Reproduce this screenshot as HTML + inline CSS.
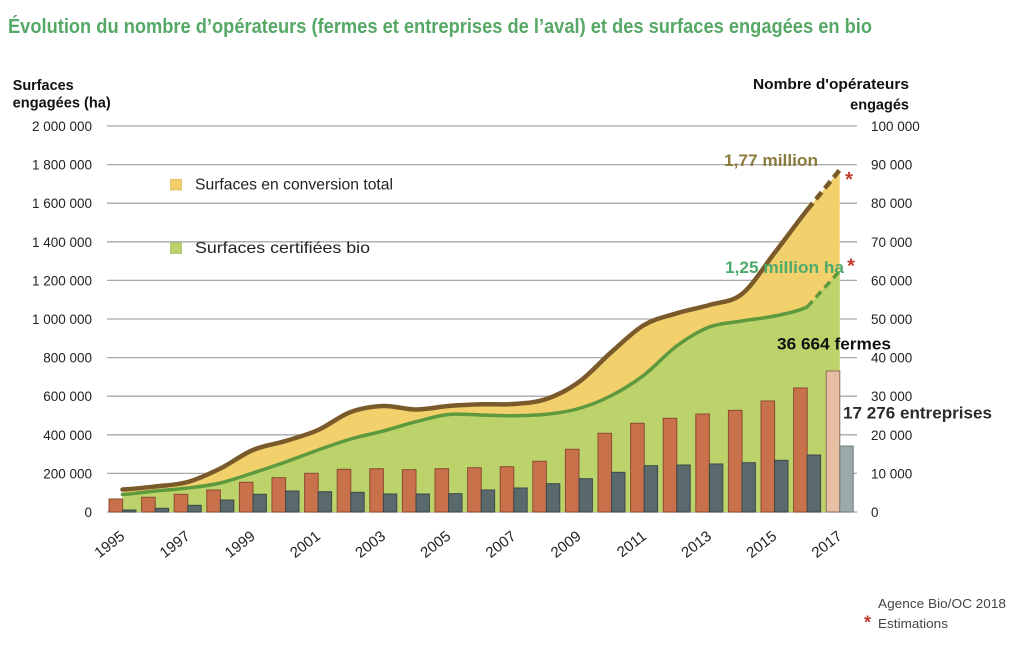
<!DOCTYPE html>
<html>
<head>
<meta charset="utf-8">
<style>
  html, body { margin:0; padding:0; background:#ffffff; }
  body { width:1024px; height:652px; overflow:hidden; }
  svg { display:block; }
  text { font-family: "Liberation Sans", "DejaVu Sans", sans-serif; }
</style>
</head>
<body>
<svg width="1024" height="652" viewBox="0 0 1024 652" xmlns="http://www.w3.org/2000/svg">
  <rect x="0" y="0" width="1024" height="652" fill="#ffffff"/>

  <!-- Title -->
  <text x="8" y="33" font-size="20" font-weight="bold" fill="#55a866" textLength="864" lengthAdjust="spacingAndGlyphs">Évolution du nombre d’opérateurs (fermes et entreprises de l’aval) et des surfaces engagées en bio</text>

  <!-- Axis titles -->
  <text x="12.7" y="90" font-size="14.5" font-weight="bold" fill="#111" textLength="61" lengthAdjust="spacingAndGlyphs">Surfaces</text>
  <text x="12.7" y="107.5" font-size="14.5" font-weight="bold" fill="#111" textLength="98" lengthAdjust="spacingAndGlyphs">engagées (ha)</text>
  <text x="909" y="89" font-size="14.5" font-weight="bold" fill="#111" text-anchor="end" textLength="156" lengthAdjust="spacingAndGlyphs">Nombre d'opérateurs</text>
  <text x="909" y="109.5" font-size="14.5" font-weight="bold" fill="#111" text-anchor="end">engagés</text>

  <!-- Gridlines -->
  <g stroke="#a8a8a8" stroke-width="1.3">
    <line x1="107" y1="126" x2="857" y2="126"/>
    <line x1="107" y1="164.6" x2="857" y2="164.6"/>
    <line x1="107" y1="203.2" x2="857" y2="203.2"/>
    <line x1="107" y1="241.8" x2="857" y2="241.8"/>
    <line x1="107" y1="280.4" x2="857" y2="280.4"/>
    <line x1="107" y1="319" x2="857" y2="319"/>
    <line x1="107" y1="357.6" x2="857" y2="357.6"/>
    <line x1="107" y1="396.2" x2="857" y2="396.2"/>
    <line x1="107" y1="434.8" x2="857" y2="434.8"/>
    <line x1="107" y1="473.4" x2="857" y2="473.4"/>
    <line x1="107" y1="512" x2="857" y2="512"/>
  </g>

  <!-- Left axis labels -->
  <g font-size="13.5" fill="#222" text-anchor="end">
    <text x="92" y="131">2 000 000</text>
    <text x="92" y="169.6">1 800 000</text>
    <text x="92" y="208.2">1 600 000</text>
    <text x="92" y="246.8">1 400 000</text>
    <text x="92" y="285.4">1 200 000</text>
    <text x="92" y="324">1 000 000</text>
    <text x="92" y="362.6">800 000</text>
    <text x="92" y="401.2">600 000</text>
    <text x="92" y="439.8">400 000</text>
    <text x="92" y="478.4">200 000</text>
    <text x="92" y="517">0</text>
  </g>

  <!-- Right axis labels -->
  <g font-size="13.5" fill="#222">
    <text x="871" y="131">100 000</text>
    <text x="871" y="169.6">90 000</text>
    <text x="871" y="208.2">80 000</text>
    <text x="871" y="246.8">70 000</text>
    <text x="871" y="285.4">60 000</text>
    <text x="871" y="324">50 000</text>
    <text x="871" y="362.6">40 000</text>
    <text x="871" y="401.2">30 000</text>
    <text x="871" y="439.8">20 000</text>
    <text x="871" y="478.4">10 000</text>
    <text x="871" y="517">0</text>
  </g>

  <!-- Yellow area (total) -->
  <path fill="#f2d06c" d="M122.5,489.5
    C133.4,489 144.2,487.75 155.1,486.5
    C166,485.25 176.8,485 187.7,482
    C198.6,479 209.4,473.83 220.3,468.5
    C231.2,463.17 242,454.58 252.9,450
    C263.8,445.42 274.6,444.33 285.5,441
    C296.4,437.67 307.2,434.83 318.1,430
    C329,425.17 339.8,416 350.7,412
    C361.6,408 372.4,406.42 383.3,406
    C394.2,405.58 405,409.5 415.9,409.5
    C426.8,409.5 437.6,406.87 448.5,406
    C459.4,405.13 470.2,404.63 481.1,404.3
    C492,403.97 502.8,404.88 513.7,404
    C524.6,403.12 535.4,402.67 546.3,399
    C557.2,395.33 568,389.83 578.9,382
    C589.8,374.17 600.6,361.5 611.5,352
    C622.4,342.5 633.2,331.45 644.1,325
    C655,318.55 665.8,316.63 676.7,313.3
    C687.6,309.97 698.4,308.22 709.3,305
    C720.2,301.78 731,302.67 741.9,294
    C752.8,285.33 763.6,267 774.5,253
    C785.4,239 796.2,223.83 807.1,210
    L839.7,170 L839.7,512 L122.5,512 Z"/>

  <!-- Green area (certified) -->
  <path fill="#bcd36c" d="M122.5,494.5
    C133.4,493.92 144.2,492.08 155.1,491
    C166,489.92 176.8,489.33 187.7,488
    C198.6,486.67 209.4,485.5 220.3,483
    C231.2,480.5 242,476.5 252.9,473
    C263.8,469.5 274.6,465.83 285.5,462
    C296.4,458.17 307.2,453.83 318.1,450
    C329,446.17 339.8,442.17 350.7,439
    C361.6,435.83 372.4,433.88 383.3,431
    C394.2,428.12 405,424.45 415.9,421.7
    C426.8,418.95 437.6,415.62 448.5,414.5
    C459.4,413.38 470.2,414.8 481.1,415
    C492,415.2 502.8,415.82 513.7,415.7
    C524.6,415.58 535.4,415.5 546.3,414.3
    C557.2,413.1 568,411.63 578.9,408.5
    C589.8,405.37 600.6,401.08 611.5,395.5
    C622.4,389.92 633.2,383.25 644.1,375
    C655,366.75 665.8,354 676.7,346
    C687.6,338 698.4,331.17 709.3,327
    C720.2,322.83 731,322.83 741.9,321
    C752.8,319.17 763.6,318.33 774.5,316
    C785.4,313.67 796.2,312 807.1,307
    L839.7,271 L839.7,512 L122.5,512 Z"/>

  <!-- Bars: farms (orange) -->
  <g fill="#c9714b" stroke="#8c4a30" stroke-width="1">
    <rect x="109.0" y="499" width="13.6" height="13"/>
    <rect x="141.6" y="497.3" width="13.6" height="14.7"/>
    <rect x="174.2" y="494.3" width="13.6" height="17.7"/>
    <rect x="206.8" y="490" width="13.6" height="22"/>
    <rect x="239.4" y="482.3" width="13.6" height="29.7"/>
    <rect x="272.0" y="477.7" width="13.6" height="34.3"/>
    <rect x="304.6" y="473.3" width="13.6" height="38.7"/>
    <rect x="337.2" y="469.3" width="13.6" height="42.7"/>
    <rect x="369.8" y="468.7" width="13.6" height="43.3"/>
    <rect x="402.4" y="469.7" width="13.6" height="42.3"/>
    <rect x="435.0" y="468.7" width="13.6" height="43.3"/>
    <rect x="467.6" y="467.7" width="13.6" height="44.3"/>
    <rect x="500.2" y="466.7" width="13.6" height="45.3"/>
    <rect x="532.8" y="461.3" width="13.6" height="50.7"/>
    <rect x="565.4" y="449.3" width="13.6" height="62.7"/>
    <rect x="598.0" y="433.3" width="13.6" height="78.7"/>
    <rect x="630.6" y="423.3" width="13.6" height="88.7"/>
    <rect x="663.2" y="418.3" width="13.6" height="93.7"/>
    <rect x="695.8" y="414" width="13.6" height="98"/>
    <rect x="728.4" y="410.3" width="13.6" height="101.7"/>
    <rect x="761.0" y="401" width="13.6" height="111"/>
    <rect x="793.6" y="388" width="13.6" height="124"/>
  </g>
  <rect x="826.2" y="371" width="13.6" height="141" fill="#e6bea2" stroke="#8f6d5b" stroke-width="1"/>

  <!-- Bars: enterprises (dark) -->
  <g fill="#5a6a6c" stroke="#3b4749" stroke-width="1">
    <rect x="122.6" y="510" width="13.4" height="2"/>
    <rect x="155.2" y="508.3" width="13.4" height="3.7"/>
    <rect x="187.8" y="505.3" width="13.4" height="6.7"/>
    <rect x="220.4" y="500" width="13.4" height="12"/>
    <rect x="253.0" y="494.3" width="13.4" height="17.7"/>
    <rect x="285.6" y="491" width="13.4" height="21"/>
    <rect x="318.2" y="491.7" width="13.4" height="20.3"/>
    <rect x="350.8" y="492.3" width="13.4" height="19.7"/>
    <rect x="383.4" y="494" width="13.4" height="18"/>
    <rect x="416.0" y="494" width="13.4" height="18"/>
    <rect x="448.6" y="493.7" width="13.4" height="18.3"/>
    <rect x="481.2" y="490" width="13.4" height="22"/>
    <rect x="513.8" y="488" width="13.4" height="24"/>
    <rect x="546.4" y="483.7" width="13.4" height="28.3"/>
    <rect x="579.0" y="478.7" width="13.4" height="33.3"/>
    <rect x="611.6" y="472.3" width="13.4" height="39.7"/>
    <rect x="644.2" y="465.7" width="13.4" height="46.3"/>
    <rect x="676.8" y="465" width="13.4" height="47"/>
    <rect x="709.4" y="464" width="13.4" height="48"/>
    <rect x="742.0" y="462.7" width="13.4" height="49.3"/>
    <rect x="774.6" y="460.3" width="13.4" height="51.7"/>
    <rect x="807.2" y="455" width="13.4" height="57"/>
  </g>
  <rect x="839.8" y="446" width="13.4" height="66" fill="#9aaaa9" stroke="#6e7d7d" stroke-width="1"/>

  <!-- Brown line (total) -->
  <path fill="none" stroke="#7a5a2b" stroke-width="4.5" stroke-linecap="round" stroke-linejoin="round" d="M122.5,489.5
    C133.4,489 144.2,487.75 155.1,486.5
    C166,485.25 176.8,485 187.7,482
    C198.6,479 209.4,473.83 220.3,468.5
    C231.2,463.17 242,454.58 252.9,450
    C263.8,445.42 274.6,444.33 285.5,441
    C296.4,437.67 307.2,434.83 318.1,430
    C329,425.17 339.8,416 350.7,412
    C361.6,408 372.4,406.42 383.3,406
    C394.2,405.58 405,409.5 415.9,409.5
    C426.8,409.5 437.6,406.87 448.5,406
    C459.4,405.13 470.2,404.63 481.1,404.3
    C492,403.97 502.8,404.88 513.7,404
    C524.6,403.12 535.4,402.67 546.3,399
    C557.2,395.33 568,389.83 578.9,382
    C589.8,374.17 600.6,361.5 611.5,352
    C622.4,342.5 633.2,331.45 644.1,325
    C655,318.55 665.8,316.63 676.7,313.3
    C687.6,309.97 698.4,308.22 709.3,305
    C720.2,301.78 731,302.67 741.9,294
    C752.8,285.33 763.6,267 774.5,253
    C785.4,239 796.2,223.83 807.1,210"/>
  <path fill="none" stroke="#7a5a2b" stroke-width="4.5" stroke-dasharray="9 5" d="M807.1,210 L839.7,170"/>

  <!-- Green line (certified) -->
  <path fill="none" stroke="#5e993e" stroke-width="3.5" stroke-linecap="round" stroke-linejoin="round" d="M122.5,494.5
    C133.4,493.92 144.2,492.08 155.1,491
    C166,489.92 176.8,489.33 187.7,488
    C198.6,486.67 209.4,485.5 220.3,483
    C231.2,480.5 242,476.5 252.9,473
    C263.8,469.5 274.6,465.83 285.5,462
    C296.4,458.17 307.2,453.83 318.1,450
    C329,446.17 339.8,442.17 350.7,439
    C361.6,435.83 372.4,433.88 383.3,431
    C394.2,428.12 405,424.45 415.9,421.7
    C426.8,418.95 437.6,415.62 448.5,414.5
    C459.4,413.38 470.2,414.8 481.1,415
    C492,415.2 502.8,415.82 513.7,415.7
    C524.6,415.58 535.4,415.5 546.3,414.3
    C557.2,413.1 568,411.63 578.9,408.5
    C589.8,405.37 600.6,401.08 611.5,395.5
    C622.4,389.92 633.2,383.25 644.1,375
    C655,366.75 665.8,354 676.7,346
    C687.6,338 698.4,331.17 709.3,327
    C720.2,322.83 731,322.83 741.9,321
    C752.8,319.17 763.6,318.33 774.5,316
    C785.4,313.67 796.2,312 807.1,307"/>
  <path fill="none" stroke="#5e993e" stroke-width="3.5" stroke-dasharray="8 5" d="M807.1,307 L839.7,271"/>

  <!-- Legend -->
  <rect x="170.5" y="179.5" width="11" height="10.5" fill="#f2d06c" stroke="#e0bd5a" stroke-width="0.8"/>
  <text x="195" y="189.5" font-size="16" fill="#222" textLength="198" lengthAdjust="spacingAndGlyphs">Surfaces en conversion total</text>
  <rect x="170.5" y="243" width="11" height="10.5" fill="#bcd36c" stroke="#a9c25a" stroke-width="0.8"/>
  <text x="195" y="253" font-size="16" fill="#222" textLength="175" lengthAdjust="spacingAndGlyphs">Surfaces certifiées bio</text>

  <!-- Annotations -->
  <text x="724" y="166" font-size="17" font-weight="bold" fill="#8b7b3c" textLength="94" lengthAdjust="spacingAndGlyphs">1,77 million</text>
  <text x="849" y="186" font-size="20" font-weight="bold" fill="#c0392b" text-anchor="middle">*</text>
  <text x="725" y="273" font-size="17" font-weight="bold" fill="#4ea96c" textLength="119" lengthAdjust="spacingAndGlyphs">1,25 million ha</text>
  <text x="851" y="272.5" font-size="20" font-weight="bold" fill="#c0392b" text-anchor="middle">*</text>
  <text x="777" y="349.5" font-size="17" font-weight="bold" fill="#111" textLength="114" lengthAdjust="spacingAndGlyphs">36 664 fermes</text>
  <text x="843" y="418.5" font-size="17" font-weight="bold" fill="#2b2b2b" textLength="149" lengthAdjust="spacingAndGlyphs">17 276 entreprises</text>

  <!-- X axis labels -->
  <g font-size="15" fill="#222" text-anchor="end">
    <text transform="translate(125.7,538) rotate(-38)">1995</text>
    <text transform="translate(190.9,538) rotate(-38)">1997</text>
    <text transform="translate(256.1,538) rotate(-38)">1999</text>
    <text transform="translate(321.3,538) rotate(-38)">2001</text>
    <text transform="translate(386.5,538) rotate(-38)">2003</text>
    <text transform="translate(451.7,538) rotate(-38)">2005</text>
    <text transform="translate(516.9,538) rotate(-38)">2007</text>
    <text transform="translate(582.1,538) rotate(-38)">2009</text>
    <text transform="translate(647.3,538) rotate(-38)">2011</text>
    <text transform="translate(712.5,538) rotate(-38)">2013</text>
    <text transform="translate(777.7,538) rotate(-38)">2015</text>
    <text transform="translate(842.9,538) rotate(-38)">2017</text>
  </g>

  <!-- Footnote -->
  <text x="878" y="608" font-size="13" fill="#444" textLength="128" lengthAdjust="spacingAndGlyphs">Agence Bio/OC 2018</text>
  <text x="867.5" y="628.5" font-size="18" font-weight="bold" fill="#c0392b" text-anchor="middle">*</text>
  <text x="878" y="628" font-size="13" fill="#444" textLength="70" lengthAdjust="spacingAndGlyphs">Estimations</text>
</svg>
</body>
</html>
